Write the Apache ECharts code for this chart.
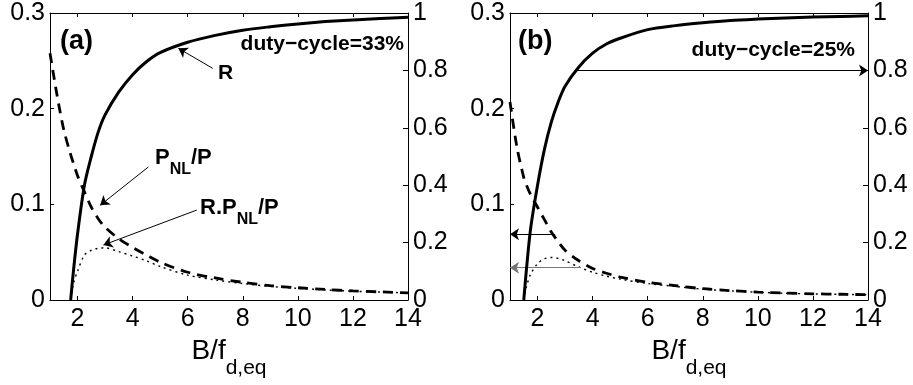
<!DOCTYPE html>
<html>
<head>
<meta charset="utf-8">
<script src="https://cdn.jsdelivr.net/npm/echarts@6/dist/echarts.min.js"></script>
<style>
  html, body { margin: 0; padding: 0; background: #fff; }
  #chart { width: 913px; height: 385px; }
</style>
</head>
<body>
<div id="chart"></div>
<script>
// panel (a): duty-cycle 33%
const xA = [1, 1.25, 1.5, 1.75, 1.85, 2, 2.25, 2.5, 2.75, 3, 3.5, 4, 4.5, 5, 6, 7, 8, 9, 10, 11, 12, 13, 14];
const rA = [null, null, null, 0, 0.1, 0.23, 0.4, 0.5, 0.585, 0.645, 0.725, 0.785, 0.83, 0.862, 0.898, 0.922, 0.94, 0.952, 0.962, 0.97, 0.976, 0.981, 0.985];
const pnlA = [0.258, 0.215, 0.178, 0.152, 0.143, 0.13, 0.113, 0.097, 0.085, 0.076, 0.064, 0.055, 0.047, 0.0395, 0.029, 0.023, 0.0185, 0.015, 0.0128, 0.011, 0.0095, 0.0085, 0.0075];
const rpnlA = [null, null, null, 0, 0.017, 0.03, 0.047, 0.052, 0.054, 0.0545, 0.0505, 0.046, 0.041, 0.035, 0.026, 0.021, 0.0172, 0.0142, 0.0122, 0.0106, 0.0092, 0.0083, 0.0074];

// panel (b): duty-cycle 25%
const xB = [1, 1.25, 1.5, 1.6, 1.75, 2, 2.25, 2.5, 2.75, 3, 3.5, 4, 4.5, 5, 6, 7, 8, 9, 10, 11, 12, 13, 14];
const rB = [null, null, 0, 0.11, 0.25, 0.4, 0.525, 0.62, 0.69, 0.745, 0.812, 0.86, 0.892, 0.912, 0.942, 0.956, 0.966, 0.974, 0.979, 0.983, 0.986, 0.988, 0.99];
const pnlB = [0.207, 0.16, 0.128, 0.12, 0.11, 0.097, 0.084, 0.071, 0.061, 0.052, 0.041, 0.033, 0.028, 0.024, 0.0185, 0.015, 0.0118, 0.0098, 0.0083, 0.0072, 0.0065, 0.006, 0.0055];
const rpnlB = [null, null, 0, 0.014, 0.027, 0.038, 0.043, 0.0445, 0.0435, 0.041, 0.0345, 0.029, 0.025, 0.0218, 0.0172, 0.0142, 0.0113, 0.0095, 0.0081, 0.007, 0.0064, 0.0059, 0.0054];

// tick labels
const xTicks = [2, 4, 6, 8, 10, 12, 14];
const yLeftTicks = [0, 0.1, 0.2, 0.3];
const yRightTicks = [0, 0.2, 0.4, 0.6, 0.8, 1];

// annotation arrows [start, end] in data coords
const arrowA_R = [[6.91, 0.807], [5.66, 0.877]];
const arrowA_P = [[4.57, 0.139], [2.82, 0.099]];
const arrowA_RP = [[6.33, 0.094], [2.94, 0.0575]];
const arrowB_R = [[3.42, 0.8], [14, 0.8]];
const arrowB_P = [[2.64, 0.0686], [1, 0.0686]];
const arrowB_RP = [[3.55, 0.0338], [1, 0.0338]];

const FONT = '"Liberation Sans", Arial, Helvetica, sans-serif';

function pairs(xs, ys) {
    return xs.map((x, i) => [x, ys[i]]).filter(p => p[1] != null);
}

function arrows(list) {
    return {
        silent: true,
        animation: false,
        symbol: ['none', 'arrow'],
        symbolSize: 9,
        label: { show: false },
        lineStyle: { type: 'solid', width: 1, color: '#000' },
        emphasis: { disabled: true },
        data: list.map(a => {
            return [{ coord: a[0], lineStyle: { color: a[2] || '#000' } }, { coord: a[1] }];
        })
    };
}

function xAxes(g) {
    const base = {
        gridIndex: g,
        type: 'value',
        min: 1,
        max: 14,
        axisLine: { show: true, onZero: false, lineStyle: { color: '#000', width: 1 } },
        axisTick: { show: true, inside: true, length: 4, customValues: xTicks, lineStyle: { color: '#000' } },
        splitLine: { show: false }
    };
    return [
        Object.assign({}, base, {
            position: 'bottom',
            axisLabel: { customValues: xTicks, fontSize: 25, color: '#000', margin: 7, fontFamily: FONT },
            name: '{m|B/f}{s|d,eq}',
            nameLocation: 'middle',
            nameGap: 33,
            nameTextStyle: {
                rich: {
                    m: { fontSize: 28, fontFamily: FONT, color: '#000', lineHeight: 30, verticalAlign: 'top' },
                    s: { fontSize: 21, fontFamily: FONT, color: '#000', lineHeight: 22, verticalAlign: 'top', padding: [21, 0, 0, 0] }
                }
            }
        }),
        Object.assign({}, base, { position: 'top', axisLabel: { show: false } })
    ];
}

function yAxes(g) {
    return [
        {
            gridIndex: g, type: 'value', min: 0, max: 0.3, position: 'left',
            axisLine: { show: true, lineStyle: { color: '#000', width: 1 } },
            axisTick: { show: true, inside: true, length: 4, customValues: yLeftTicks, lineStyle: { color: '#000' } },
            axisLabel: { customValues: yLeftTicks, fontSize: 25, color: '#000', margin: 5, fontFamily: FONT },
            splitLine: { show: false }
        },
        {
            gridIndex: g, type: 'value', min: 0, max: 1, position: 'right',
            axisLine: { show: true, lineStyle: { color: '#000', width: 1 } },
            axisTick: { show: true, inside: true, length: 5, customValues: yRightTicks, lineStyle: { color: '#000' } },
            axisLabel: { customValues: yRightTicks, fontSize: 25, color: '#000', margin: 5, fontFamily: FONT },
            splitLine: { show: false }
        }
    ];
}

function panelSeries(g, xs, r, pnl, rpnl, mR, mP) {
    const xi = g * 2;
    const yi = g * 2;
    const common = { type: 'line', showSymbol: false, smooth: 0.3, silent: true, xAxisIndex: xi };
    return [
        Object.assign({}, common, {
            name: 'PNL/P', yAxisIndex: yi, data: pairs(xs, pnl),
            lineStyle: { color: '#000', width: 2.8, type: [10, 7] },
            markLine: arrows(mP)
        }),
        Object.assign({}, common, {
            name: 'R.PNL/P', yAxisIndex: yi, data: pairs(xs, rpnl),
            lineStyle: { color: '#000', width: 1.4, type: [2, 4] }
        }),
        Object.assign({}, common, {
            name: 'R', yAxisIndex: yi + 1, data: pairs(xs, r), z: 5,
            lineStyle: { color: '#000', width: 3, type: 'solid' },
            markLine: arrows(mR)
        })
    ];
}

function label(text, x, y, size, align, rich) {
    const style = {
        text: text, x: 0, y: 0,
        font: 'bold ' + size + 'px ' + FONT,
        fill: '#000',
        align: align || 'left', textAlign: align || 'left',
        verticalAlign: 'top', textVerticalAlign: 'top'
    };
    if (rich) style.rich = rich;
    return { type: 'text', x: x, y: y, silent: true, style: style };
}

const subRich = {
    m: { fontSize: 22, fontWeight: 'bold', fontFamily: FONT, color: '#000', lineHeight: 24, verticalAlign: 'top' },
    s: { fontSize: 16, fontWeight: 'bold', fontFamily: FONT, color: '#000', lineHeight: 18, verticalAlign: 'top', padding: [15, 0, 0, 0] }
};

const chart = echarts.init(document.getElementById('chart'), null, { renderer: 'canvas' });

const option = {
    animation: false,
    backgroundColor: '#fff',
    grid: [
        { left: 50, right: 505, top: 13, bottom: 85 },
        { left: 510, right: 45, top: 13, bottom: 85 }
    ],
    xAxis: xAxes(0).concat(xAxes(1)),
    yAxis: yAxes(0).concat(yAxes(1)),
    series: panelSeries(0, xA, rA, pnlA, rpnlA, [arrowA_R], [arrowA_P, arrowA_RP])
        .concat(panelSeries(1, xB, rB, pnlB, rpnlB, [arrowB_R], [arrowB_P, arrowB_RP.concat(['#777'])])),
    graphic: [
        label('(a)', 60, 28, 27),
        label('duty\u2212cycle=33%', 404, 34, 21, 'right'),
        label('R', 218, 63, 21),
        label('{m|P}{s|NL}{m|/P}', 155, 147, 22, 'left', subRich),
        label('{m|R.P}{s|NL}{m|/P}', 200, 197, 22, 'left', subRich),
        label('(b)', 518, 28, 27),
        label('duty\u2212cycle=25%', 855, 40, 21, 'right')
    ]
};

chart.setOption(option);
</script>
</body>
</html>
